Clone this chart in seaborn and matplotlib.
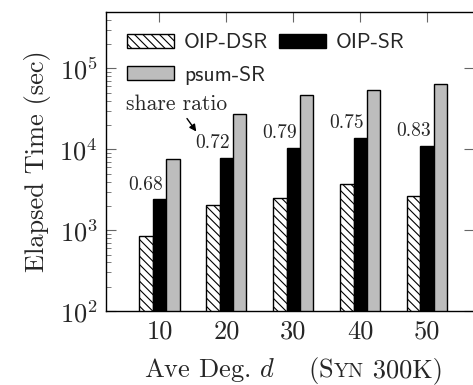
import matplotlib
matplotlib.use('Agg')
import matplotlib.pyplot as plt
import seaborn as sns
import pandas as pd
from matplotlib.patches import Patch
from matplotlib.offsetbox import TextArea, HPacker, AnchoredOffsetbox
from matplotlib.ticker import LogLocator, NullFormatter

# values
degrees = ['10', '20', '30', '40', '50']
methods = ['OIP-DSR', 'OIP-SR', 'psum-SR']
oip_dsr = [850, 2050, 2500, 3700, 2650]
oip_sr = [2400, 7900, 10400, 13800, 11000]
psum_sr = [7500, 27500, 47000, 53500, 64000]
share_ratio = ['0.68', '0.72', '0.79', '0.75', '0.83']

colors = {'OIP-DSR': 'white', 'OIP-SR': 'black', 'psum-SR': '#bdbdbd'}
hatch = '\\\\\\\\'

df = pd.DataFrame({
    'deg': degrees * 3,
    'method': [m for m in methods for _ in degrees],
    'time': oip_dsr + oip_sr + psum_sr,
})

sns.set_theme(style='ticks')
plt.rcParams['font.family'] = ['cmr10']
plt.rcParams['mathtext.fontset'] = 'cm'
plt.rcParams['axes.formatter.use_mathtext'] = True
plt.rcParams['hatch.linewidth'] = 0.8
plt.rcParams['axes.unicode_minus'] = False

fig = plt.figure(figsize=(4.73, 3.85), dpi=100)
ax = fig.add_axes([0.224, 0.192, 0.778, 0.777])
ax.set_yscale('log')

sns.barplot(data=df, x='deg', y='time', hue='method', hue_order=methods,
            palette=colors, width=0.6, edgecolor='black', linewidth=1,
            ax=ax, legend=False)
for bar in ax.containers[0]:
    bar.set_hatch(hatch)

ax.set_ylim(100, 5e5)
ax.set_xlim(-0.8, 4.7)
ax.yaxis.set_major_locator(LogLocator(base=10))
ax.yaxis.set_minor_locator(LogLocator(base=10, subs=range(2, 10)))
ax.yaxis.set_minor_formatter(NullFormatter())

# share ratio labels above the OIP-SR bars
for i, r in enumerate(share_ratio):
    ax.annotate(r, xy=(i - 0.2, oip_sr[i]), xytext=(0, 4),
                textcoords='offset points', ha='center', va='bottom',
                fontsize=14)
ax.annotate('share ratio', xy=(0.55, 16600), xytext=(0.26, 36000),
            ha='center', va='center', fontsize=15.5,
            arrowprops=dict(arrowstyle='-|>', color='black', lw=1,
                            shrinkA=1, shrinkB=0, mutation_scale=10))

for s in ax.spines.values():
    s.set_color('black')
    s.set_linewidth(1)
ax.tick_params(which='both', direction='in', top=True, right=True,
               color='0.4', labelsize=19)
ax.tick_params(which='major', length=7, width=0.8)
ax.tick_params(which='minor', length=3.5, width=0.6)
ax.tick_params(axis='y', which='minor', right=False)
ax.tick_params(axis='x', pad=6)
ax.tick_params(axis='y', pad=6)

ax.set_xlabel('')
ax.set_ylabel('Elapsed Time (sec)', fontsize=19, labelpad=6)

# legend
handles = [
    Patch(facecolor='white', edgecolor='black', hatch=hatch, label='OIP-DSR'),
    Patch(facecolor=colors['psum-SR'], edgecolor='black', label='psum-SR'),
    Patch(facecolor='black', edgecolor='black', label='OIP-SR'),
]
ax.legend(handles=handles, ncol=2, loc='upper left', frameon=False,
          bbox_to_anchor=(0.057, 0.928), borderpad=0, borderaxespad=0,
          prop={'family': 'cmss10', 'size': 15.5},
          handlelength=2.2, handleheight=0.65, handletextpad=0.45,
          columnspacing=0.5, labelspacing=0.62)

# x label with small caps "Syn"
parts = [
    TextArea('Ave Deg. $d$    (S', textprops=dict(size=19, family='cmr10')),
    TextArea('YN', textprops=dict(size=14.5, family='cmr10')),
    TextArea(' 300K)', textprops=dict(size=19, family='cmr10')),
]
pack = HPacker(children=parts, align='baseline', pad=0, sep=0)
box = AnchoredOffsetbox(loc='center', child=pack, pad=0, borderpad=0,
                        frameon=False, bbox_to_anchor=(0.51, -0.2),
                        bbox_transform=ax.transAxes)
ax.add_artist(box)

fig.savefig('out.png', dpi=100)
